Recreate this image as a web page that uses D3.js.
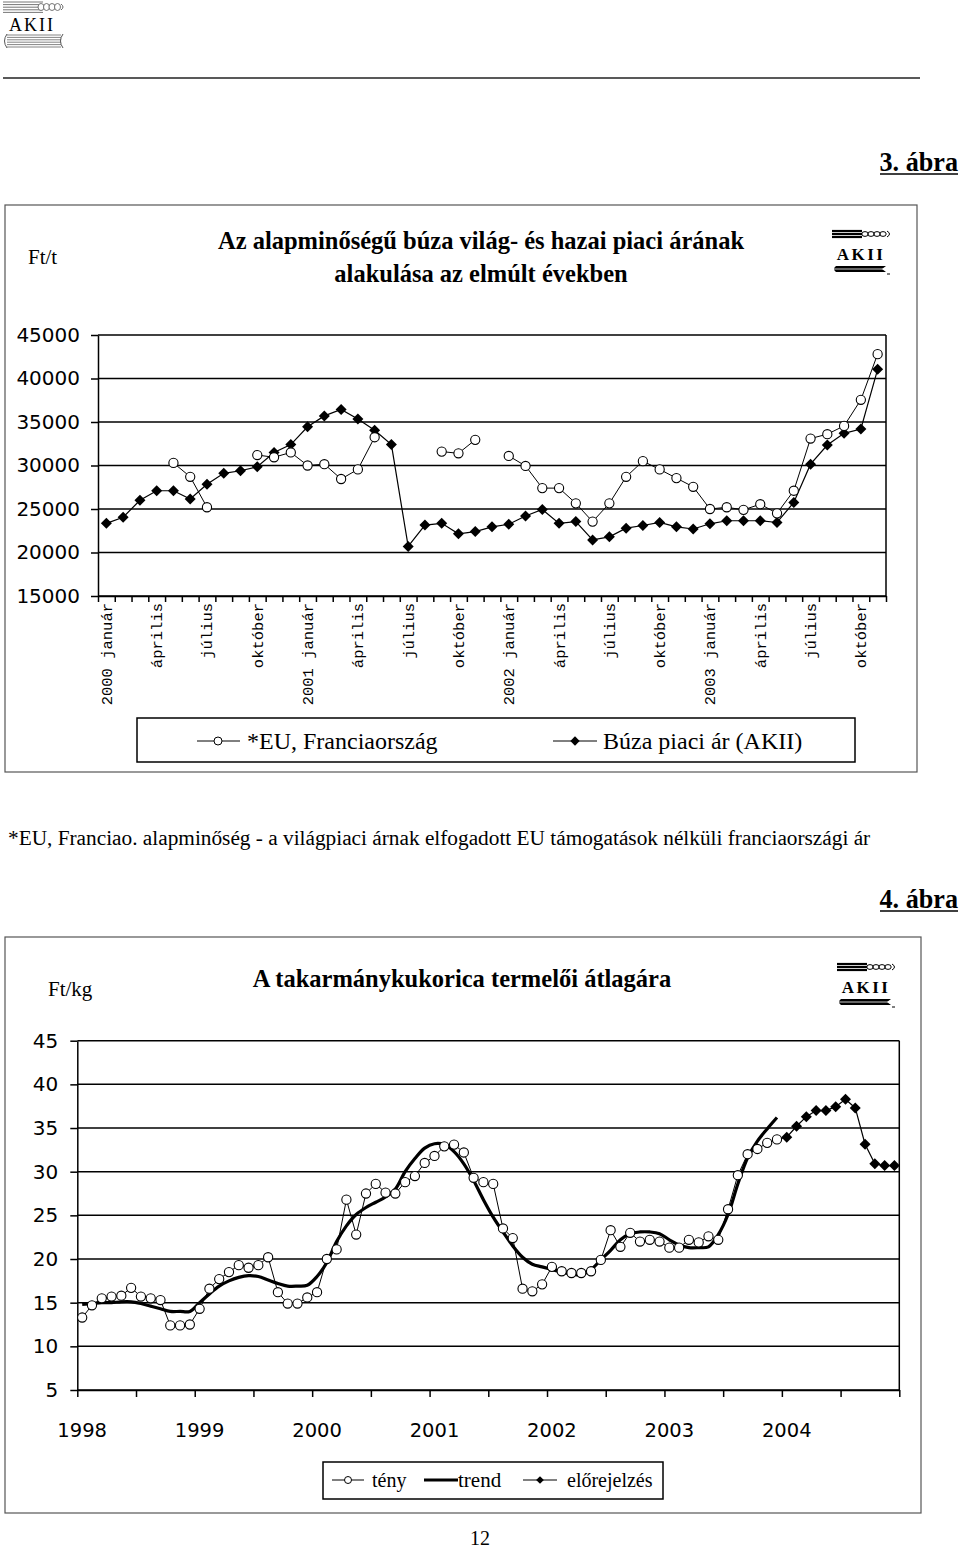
<!DOCTYPE html>
<html>
<head>
<meta charset="utf-8">
<script src="https://cdn.jsdelivr.net/npm/d3@7"></script>
<style>
  body { margin: 0; background: #fff; }
  svg { display: block; }
</style>
</head>
<body>
<script>
(function(){
// --- 3. ábra: wheat prices, monthly 2000 január .. 2003 november (Ft/t)
var wheatTickLabels = ['2000 január', 'április', 'július', 'október',
  '2001 január', 'április', 'július', 'október',
  '2002 január', 'április', 'július', 'október',
  '2003 január', 'április', 'július', 'október'];
var wheatYTicks = [15000, 20000, 25000, 30000, 35000, 40000, 45000];
var wheatEU = [null, null, null, null, 30300, 28700, 25200, null, null, 31200,
  30950, 31500, 30000, 30150, 28450, 29550, 33250, null, null, null,
  31600, 31400, 32950, null, 31100, 29950, 27400, 27400, 25650, 23550,
  25650, 28700, 30500, 29550, 28550, 27550, 25000, 25200, 24900, 25550,
  24500, 27100, 33100, 33600, 34550, 37550, 42800];
var wheatAKII = [23350, 24050, 26000, 27100, 27100, 26150, 27850, 29100, 29400, 29850,
  31500, 32400, 34450, 35700, 36450, 35350, 34050, 32400, 20700, 23150,
  23350, 22150, 22400, 22950, 23250, 24200, 24950, 23350, 23550, 21450,
  21800, 22800, 23100, 23450, 22950, 22700, 23300, 23650, 23650, 23650,
  23450, 25750, 30150, 32350, 33700, 34200, 41050];

// --- 4. ábra: feed maize producer price, monthly 1998..2004 (Ft/kg)
var cornYears = ['1998', '1999', '2000', '2001', '2002', '2003', '2004'];
var cornYTicks = [5, 10, 15, 20, 25, 30, 35, 40, 45];
var cornMonths = 84;
var cornFact = [13.3, 14.7, 15.5, 15.7, 15.8, 16.7, 15.7, 15.5, 15.3, 12.4,
  12.4, 12.5, 14.3, 16.6, 17.7, 18.5, 19.3, 19.0, 19.3, 20.2,
  16.2, 14.9, 14.9, 15.6, 16.2, 20.0, 21.1, 26.8, 22.8, 27.5,
  28.6, 27.6, 27.5, 28.8, 29.5, 31.0, 31.8, 32.9, 33.1, 32.2,
  29.3, 28.8, 28.6, 23.5, 22.4, 16.6, 16.3, 17.1, 19.1, 18.6,
  18.4, 18.4, 18.6, 19.9, 23.3, 21.4, 23.0, 22.0, 22.2, 22.0,
  21.3, 21.3, 22.2, 21.9, 22.6, 22.2, 25.7, 29.6, 32.0, 32.6,
  33.3, 33.7];
var cornTrend = [14.8, 14.9, 15.0, 15.0, 15.1, 15.1, 14.9, 14.6, 14.3, 14.0,
  14.0, 14.0, 15.0, 16.0, 16.9, 17.5, 17.9, 18.1, 18.0, 17.6,
  17.2, 16.9, 16.9, 17.0, 18.0, 19.6, 22.0, 23.8, 25.1, 25.9,
  26.5, 27.1, 28.0, 30.0, 31.5, 32.7, 33.2, 33.1, 32.3, 30.9,
  29.0, 26.8, 24.8, 23.1, 21.5, 20.2, 19.4, 19.1, 18.8, 18.5,
  18.3, 18.2, 18.8, 19.9, 21.0, 22.2, 22.9, 23.1, 23.1, 22.9,
  22.2, 21.6, 21.3, 21.3, 21.4, 22.8, 25.1, 28.6, 31.6, 33.5,
  34.9, 36.2];
var cornForecastStart = 71;
var cornForecast = [33.7, 33.95, 35.2, 36.3, 37.0, 37.0, 37.45, 38.3, 37.3, 33.15,
  30.9, 30.7, 30.7];

var serif = '"Liberation Serif", "Times New Roman", serif';
var sans = '"DejaVu Sans", Verdana, sans-serif';
var mono = '"Liberation Mono", "Courier New", monospace';
var diamond = 'M0,-5.5L5.5,0L0,5.5L-5.5,0Z';

var svg = d3.select('body').append('svg')
  .attr('width', 960).attr('height', 1551)
  .style('font-family', serif);

// small AKII logo, bold version used inside the charts
function chartLogo(x, y) {
  var g = svg.append('g').attr('transform', 'translate(' + x + ',' + y + ')');
  [1, 4, 7].forEach(function(yy){
    g.append('line').attr('x1', 0).attr('x2', 30).attr('y1', yy).attr('y2', yy)
      .attr('stroke', '#000').attr('stroke-width', 2.2);
  });
  [0, 1, 2, 3].forEach(function(k){
    g.append('ellipse').attr('cx', 33 + k * 6).attr('cy', 4).attr('rx', 3.2).attr('ry', 2.4)
      .attr('fill', 'none').attr('stroke', '#000').attr('stroke-width', 1);
  });
  g.append('path').attr('d', 'M55,1 Q60,4 55,7').attr('fill', 'none').attr('stroke', '#000');
  g.append('text').attr('x', 29).attr('y', 30).attr('text-anchor', 'middle')
    .attr('font-size', 17).attr('font-weight', 'bold').attr('letter-spacing', 2.5).text('AKII');
  g.append('path').attr('d', 'M4,36 L54,36 L50,39 L54,42 L4,42 Q0,39 4,36Z').attr('fill', '#000');
  g.append('line').attr('x1', 0).attr('x2', 54).attr('y1', 39).attr('y2', 39)
    .attr('stroke', '#fff').attr('stroke-width', 0.8);
  g.append('line').attr('x1', 55).attr('x2', 58).attr('y1', 44).attr('y2', 44).attr('stroke', '#000');
}

// ---------- page header
(function(){
  var g = svg.append('g').attr('transform', 'translate(3,1)');
  d3.range(5).forEach(function(k){
    g.append('line').attr('x1', 0).attr('x2', 40).attr('y1', 1 + k * 2.6).attr('y2', 1 + k * 2.6)
      .attr('stroke', '#666').attr('stroke-width', 0.9);
  });
  [0, 1, 2, 3].forEach(function(k){
    g.append('ellipse').attr('cx', 38 + k * 5.5).attr('cy', 6).attr('rx', 3).attr('ry', 3.5)
      .attr('fill', '#fff').attr('stroke', '#666').attr('stroke-width', 0.9);
  });
  g.append('path').attr('d', 'M58,3 Q62,6 58,9').attr('fill', 'none').attr('stroke', '#666');
  g.append('text').attr('x', 29).attr('y', 30).attr('text-anchor', 'middle')
    .attr('font-size', 18).attr('letter-spacing', 2).text('AKII');
  d3.range(6).forEach(function(k){
    g.append('line').attr('x1', 4).attr('x2', 58).attr('y1', 34 + k * 2.4).attr('y2', 34 + k * 2.4)
      .attr('stroke', '#777').attr('stroke-width', 0.9);
  });
  g.append('path').attr('d', 'M4,33 Q-1,40 4,47').attr('fill', 'none').attr('stroke', '#555');
  g.append('path').attr('d', 'M60,33 Q55,40 60,47').attr('fill', 'none').attr('stroke', '#555');
})();

svg.append('line').attr('x1', 3).attr('x2', 920).attr('y1', 78).attr('y2', 78)
  .attr('stroke', '#222').attr('stroke-width', 1.5);

function figLabel(txt, y) {
  svg.append('text').attr('x', 958).attr('y', y).attr('text-anchor', 'end')
    .attr('font-size', 27).attr('font-weight', 'bold')
    .attr('transform', 'translate(958,0) scale(0.97,1) translate(-958,0)')
    .text(txt);
  svg.append('line').attr('x1', 880).attr('x2', 958).attr('y1', y + 3).attr('y2', y + 3)
    .attr('stroke', '#000').attr('stroke-width', 1.6);
}
figLabel('3. ábra', 171);

// ---------- chart 1: wheat
svg.append('rect').attr('x', 5).attr('y', 205).attr('width', 912).attr('height', 567)
  .attr('fill', 'none').attr('stroke', '#555').attr('stroke-width', 1.2);
svg.append('text').attr('x', 28).attr('y', 264).attr('font-size', 21).text('Ft/t');
svg.append('text').attr('x', 481).attr('y', 249).attr('text-anchor', 'middle')
  .attr('font-size', 24.5).attr('font-weight', 'bold').text('Az alapminőségű búza világ- és hazai piaci árának');
svg.append('text').attr('x', 481).attr('y', 282).attr('text-anchor', 'middle')
  .attr('font-size', 24.5).attr('font-weight', 'bold').text('alakulása az elmúlt években');
chartLogo(832, 230);

var tx = d3.scaleLinear().domain([0, wheatAKII.length]).range([98, 886]);
var ty = d3.scaleLinear().domain([15000, 45000]).range([596, 335]);
var c1 = svg.append('g');

c1.selectAll('line.grid').data(wheatYTicks).join('line')
  .attr('x1', 98).attr('x2', 886).attr('y1', function(d){ return ty(d); }).attr('y2', function(d){ return ty(d); })
  .attr('stroke', '#000').attr('stroke-width', 1.5);
c1.append('line').attr('x1', 886).attr('x2', 886).attr('y1', 335).attr('y2', 596)
  .attr('stroke', '#000').attr('stroke-width', 1.5);

var yAx1 = c1.append('g').attr('transform', 'translate(98,0)')
  .call(d3.axisLeft(ty).tickValues(wheatYTicks).tickSize(7).tickSizeOuter(0).tickPadding(11)
    .tickFormat(function(d){ return d; }));
yAx1.selectAll('text').attr('font-family', sans).attr('font-size', 20).attr('fill', '#000');
yAx1.selectAll('line, path').attr('stroke', '#000').attr('stroke-width', 1.5);

var xAx1 = c1.append('g').attr('transform', 'translate(0,596)')
  .call(d3.axisBottom(tx).tickValues(d3.range(0, wheatAKII.length + 1)).tickSize(6).tickSizeOuter(0).tickFormat(''));
xAx1.selectAll('line, path').attr('stroke', '#000').attr('stroke-width', 1.5);

c1.selectAll('text.mlab').data(wheatTickLabels).join('text')
  .attr('class', 'mlab')
  .attr('transform', function(d, k){ return 'translate(' + tx(k * 3 + 0.5) + ',603) rotate(-90)'; })
  .attr('text-anchor', 'end').attr('dy', '0.35em')
  .attr('font-family', mono).attr('font-size', 15.5)
  .text(function(d){ return d; });

var line1 = d3.line()
  .defined(function(d){ return d != null; })
  .x(function(d, i){ return tx(i + 0.5); })
  .y(function(d){ return ty(d); });

c1.append('path').datum(wheatAKII).attr('d', line1)
  .attr('fill', 'none').attr('stroke', '#000').attr('stroke-width', 1.2);
c1.append('path').datum(wheatEU).attr('d', line1)
  .attr('fill', 'none').attr('stroke', '#000').attr('stroke-width', 1);

c1.selectAll('path.dia').data(wheatAKII).join('path')
  .attr('class', 'dia').attr('d', diamond)
  .attr('transform', function(d, i){ return 'translate(' + tx(i + 0.5) + ',' + ty(d) + ')'; })
  .attr('fill', '#000');
c1.selectAll('circle.eu').data(wheatEU.map(function(v, i){ return {i: i, v: v}; }).filter(function(d){ return d.v != null; }))
  .join('circle').attr('class', 'eu')
  .attr('cx', function(d){ return tx(d.i + 0.5); }).attr('cy', function(d){ return ty(d.v); })
  .attr('r', 4.6).attr('fill', '#fff').attr('stroke', '#000').attr('stroke-width', 1.1);

// legend 1
svg.append('rect').attr('x', 137).attr('y', 718).attr('width', 718).attr('height', 44)
  .attr('fill', '#fff').attr('stroke', '#000').attr('stroke-width', 1.5);
svg.append('line').attr('x1', 197).attr('x2', 240).attr('y1', 741).attr('y2', 741).attr('stroke', '#000');
svg.append('circle').attr('cx', 218).attr('cy', 741).attr('r', 4).attr('fill', '#fff').attr('stroke', '#000');
svg.append('text').attr('x', 247).attr('y', 749).attr('font-size', 24).text('*EU, Franciaország');
svg.append('line').attr('x1', 553).attr('x2', 597).attr('y1', 741).attr('y2', 741).attr('stroke', '#000');
svg.append('path').attr('d', diamond).attr('transform', 'translate(575,741) scale(0.85)').attr('fill', '#000');
svg.append('text').attr('x', 603).attr('y', 749).attr('font-size', 24).text('Búza piaci ár (AKII)');

// caption
svg.append('text').attr('x', 8).attr('y', 845).attr('font-size', 21.3)
  .text('*EU, Franciao. alapminőség - a világpiaci árnak elfogadott EU támogatások nélküli franciaországi ár');

figLabel('4. ábra', 908);

// ---------- chart 2: maize
svg.append('rect').attr('x', 5).attr('y', 937).attr('width', 916).attr('height', 576)
  .attr('fill', 'none').attr('stroke', '#555').attr('stroke-width', 1.2);
svg.append('text').attr('x', 48).attr('y', 996).attr('font-size', 21).text('Ft/kg');
svg.append('text').attr('x', 462).attr('y', 987).attr('text-anchor', 'middle')
  .attr('font-size', 24.5).attr('font-weight', 'bold').text('A takarmánykukorica termelői átlagára');
chartLogo(837, 963);

var cx = d3.scaleLinear().domain([0, cornMonths]).range([77.3, 899.3]);
var cy = d3.scaleLinear().domain([5, 45]).range([1390, 1040.7]);
var c2 = svg.append('g');

c2.selectAll('line.grid').data(cornYTicks).join('line')
  .attr('x1', 77.3).attr('x2', 899.3).attr('y1', function(d){ return cy(d); }).attr('y2', function(d){ return cy(d); })
  .attr('stroke', '#000').attr('stroke-width', 1.5);
c2.append('line').attr('x1', 899.3).attr('x2', 899.3).attr('y1', 1040.7).attr('y2', 1390)
  .attr('stroke', '#000').attr('stroke-width', 1.5);

var yAx2 = c2.append('g').attr('transform', 'translate(77.3,0)')
  .call(d3.axisLeft(cy).tickValues(cornYTicks).tickSize(7).tickSizeOuter(0).tickPadding(12));
yAx2.selectAll('text').attr('font-family', sans).attr('font-size', 20).attr('fill', '#000');
yAx2.selectAll('line, path').attr('stroke', '#000').attr('stroke-width', 1.5);

var xAx2 = c2.append('g').attr('transform', 'translate(0,1390)')
  .call(d3.axisBottom(cx).tickValues(d3.range(0, cornMonths + 1, 6)).tickSize(7).tickSizeOuter(0).tickFormat(''));
xAx2.selectAll('line, path').attr('stroke', '#000').attr('stroke-width', 1.5);

c2.selectAll('text.ylab').data(cornYears).join('text')
  .attr('class', 'ylab')
  .attr('x', function(d, k){ return cx(k * 12 + 0.5); }).attr('y', 1437)
  .attr('text-anchor', 'middle').attr('font-family', sans).attr('font-size', 19.5)
  .text(function(d){ return d; });

var line2 = d3.line()
  .x(function(d, i){ return cx(i + 0.5); })
  .y(function(d){ return cy(d); });

c2.append('path').datum(cornTrend).attr('d', line2.curve(d3.curveCatmullRom.alpha(0.5)))
  .attr('fill', 'none').attr('stroke', '#000').attr('stroke-width', 3.2);
line2.curve(d3.curveLinear);
c2.append('path').datum(cornFact).attr('d', line2)
  .attr('fill', 'none').attr('stroke', '#000').attr('stroke-width', 1);

var foreLine = d3.line()
  .x(function(d, i){ return cx(cornForecastStart + i + 0.5); })
  .y(function(d){ return cy(d); });
c2.append('path').datum(cornForecast).attr('d', foreLine)
  .attr('fill', 'none').attr('stroke', '#000').attr('stroke-width', 1.2);

c2.selectAll('circle.fact').data(cornFact).join('circle').attr('class', 'fact')
  .attr('cx', function(d, i){ return cx(i + 0.5); }).attr('cy', function(d){ return cy(d); })
  .attr('r', 4.6).attr('fill', '#fff').attr('stroke', '#000').attr('stroke-width', 1.1);
c2.selectAll('path.fdia').data(cornForecast.slice(1)).join('path').attr('class', 'fdia')
  .attr('d', diamond)
  .attr('transform', function(d, i){ return 'translate(' + cx(cornForecastStart + i + 1.5) + ',' + cy(d) + ')'; })
  .attr('fill', '#000');

// legend 2
svg.append('rect').attr('x', 323).attr('y', 1462).attr('width', 340).attr('height', 37)
  .attr('fill', '#fff').attr('stroke', '#000').attr('stroke-width', 1.5);
svg.append('line').attr('x1', 332).attr('x2', 364).attr('y1', 1480).attr('y2', 1480).attr('stroke', '#000');
svg.append('circle').attr('cx', 348).attr('cy', 1480).attr('r', 3.5).attr('fill', '#fff').attr('stroke', '#000');
svg.append('text').attr('x', 372).attr('y', 1487).attr('font-size', 20).text('tény');
svg.append('line').attr('x1', 424).attr('x2', 458).attr('y1', 1480).attr('y2', 1480)
  .attr('stroke', '#000').attr('stroke-width', 3);
svg.append('text').attr('x', 458).attr('y', 1487).attr('font-size', 21).text('trend');
svg.append('line').attr('x1', 523).attr('x2', 557).attr('y1', 1480).attr('y2', 1480).attr('stroke', '#000');
svg.append('path').attr('d', diamond).attr('transform', 'translate(540,1480) scale(0.7)').attr('fill', '#000');
svg.append('text').attr('x', 567).attr('y', 1487).attr('font-size', 20).text('előrejelzés');

// page number
svg.append('text').attr('x', 480).attr('y', 1545).attr('text-anchor', 'middle')
  .attr('font-size', 20).text('12');
})();
</script>
</body>
</html>
